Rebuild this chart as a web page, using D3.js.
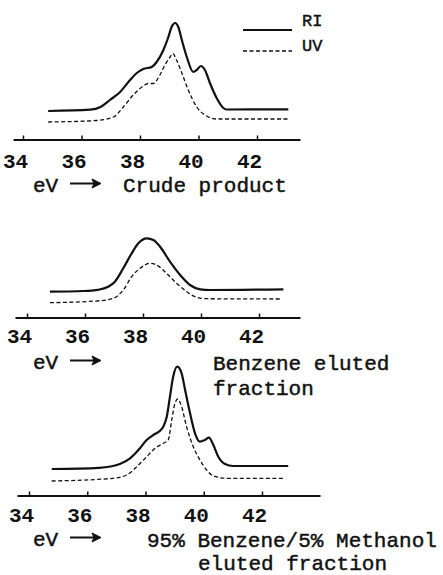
<!DOCTYPE html>
<html><head><meta charset="utf-8">
<script src="https://cdn.jsdelivr.net/npm/d3@7"></script>
<style>body{margin:0;background:#fff} svg{display:block}</style>
</head><body><svg id="c" width="443" height="575"></svg>
<script>
// ---- data ----
const tickValues = [34, 36, 38, 40, 42];
const tickLabels = ["34", "36", "38", "40", "42"];
const seriesNames = ["RI", "UV"];
const axisUnit = "eV";

// Crude product
const crudeRI_eV = [34.86, 36.30, 36.65, 36.97, 37.32, 37.66, 37.89, 38.11, 38.40, 38.57, 38.80, 38.97, 39.08, 39.20, 39.31, 39.43, 39.60, 39.82, 39.94, 40.08, 40.22, 40.39, 40.62, 40.85, 40.96, 43.07];
const crudeRI    = [11, 12.3, 15, 22, 30, 42, 49, 53, 55, 60, 72, 85, 95, 99, 95, 82, 65, 50, 52, 56, 52, 39, 24, 14, 12.5, 12.7];
const crudeUV_eV = [34.86, 36.52, 37.09, 37.43, 37.77, 38.11, 38.28, 38.45, 38.68, 38.85, 39.03, 39.12, 39.25, 39.43, 39.65, 39.94, 40.22, 40.62, 43.07];
const crudeUV    = [0, 1.5, 5, 15, 27, 36, 38.5, 38.5, 47, 57, 65, 68.5, 62, 49, 32, 15, 7, 3, 3];

// Benzene eluted fraction
const benzRI_eV = [34.79, 35.94, 36.45, 36.80, 37.03, 37.32, 37.61, 37.84, 38.13, 38.36, 38.59, 38.93, 39.28, 39.62, 39.97, 40.31, 42.84];
const benzRI    = [11.3, 12, 13.2, 16.2, 21.3, 34.7, 49.7, 59.7, 64.7, 63, 56.3, 41.3, 28, 18, 13.7, 13, 13.7];
const benzUV_eV = [34.79, 36.52, 36.98, 37.32, 37.61, 37.90, 38.24, 38.47, 38.81, 39.16, 39.51, 39.85, 40.20, 42.78];
const benzUV    = [0.3, 2.3, 4.7, 13, 26.3, 34.7, 39.7, 38, 29.7, 19.7, 11.3, 5.7, 4.3, 4];

// 95% Benzene / 5% Methanol eluted fraction
const methRI_eV = [34.78, 36.40, 36.80, 37.12, 37.47, 37.81, 38.04, 38.27, 38.50, 38.61, 38.73, 38.84, 38.95, 39.09, 39.24, 39.36, 39.53, 39.70, 39.87, 40.04, 40.18, 40.33, 40.50, 40.73, 41.01, 42.90];
const methRI    = [12, 13.2, 14.5, 17, 22.7, 32.7, 41, 46, 50.3, 54.3, 64.3, 84.3, 104.3, 114.3, 107.7, 91, 67.7, 47.7, 39.3, 41, 43.3, 36, 24.3, 17, 15, 15];
const methUV_eV = [34.78, 36.89, 37.35, 37.70, 38.04, 38.33, 38.61, 38.78, 38.90, 39.01, 39.11, 39.24, 39.41, 39.64, 39.87, 40.10, 40.33, 40.79, 42.73];
const methUV    = [0, 2.7, 6, 14.3, 24.3, 32.7, 37.7, 41, 61, 77.7, 82, 74.3, 54.3, 34.3, 21, 11, 5, 2.7, 2.7];

const panelTitles = [["Crude product"], ["Benzene eluted", "fraction"], ["95% Benzene/5% Methanol", "eluted fraction"]];

// ---- layout ----
const INK = "#111";
const FONT = "'Liberation Mono', 'DejaVu Sans Mono', monospace";
const svg = d3.select("#c");

const panels = [
  { ri: [crudeRI_eV, crudeRI], uv: [crudeUV_eV, crudeUV], t34: 23, t42: 257, L: 13, R: 300, axisY: 139.5, baseY: 122, tickBase: 168, evBase: 192,
    titlePos: [[123, 192]] },
  { ri: [benzRI_eV, benzRI], uv: [benzUV_eV, benzUV], t34: 27, t42: 259, L: 15, R: 300, axisY: 317.5, baseY: 303, tickBase: 343, evBase: 369,
    titlePos: [[213, 370], [213, 395]] },
  { ri: [methRI_eV, methRI], uv: [methUV_eV, methUV], t34: 29, t42: 262, L: 17, R: 320, axisY: 495.5, baseY: 481, tickBase: 522, evBase: 546,
    titlePos: [[147, 547], [198, 570]] }
];

function addText(x, y, t, size) {
  return svg.append("text").attr("x", x).attr("y", y).attr("font-family", FONT).attr("font-size", size)
    .attr("fill", INK).attr("stroke", INK).attr("stroke-width", 0.45).text(t);
}

panels.forEach((p, i) => {
  const x0 = d3.scaleLinear().domain([34, 42]).range([p.t34, p.t42]);
  const x = d3.scaleLinear().domain([x0.invert(p.L), x0.invert(p.R)]).range([p.L, p.R]);
  const y = d3.scaleLinear().domain([0, 100]).range([p.baseY, p.baseY - 100]);
  const line = d3.line().x(d => x(d[0])).y(d => y(d[1])).curve(d3.curveMonotoneX);

  const ri = d3.zip(p.ri[0], p.ri[1]);
  const uv = d3.zip(p.uv[0], p.uv[1]);
  svg.append("path").attr("d", line(ri)).attr("fill", "none").attr("stroke", INK).attr("stroke-width", 2.2).attr("stroke-linejoin", "round");
  svg.append("path").attr("d", line(uv)).attr("fill", "none").attr("stroke", INK).attr("stroke-width", 1.3).attr("stroke-dasharray", "4,2.5");

  const axis = d3.axisBottom(x).tickValues(tickValues).tickFormat((d, j) => tickLabels[j]).tickSizeInner(-4).tickSizeOuter(0);
  const g = svg.append("g").attr("transform", `translate(0,${p.axisY})`).call(axis);
  g.attr("color", INK).attr("font-family", FONT).attr("font-size", 21).attr("font-weight", "bold");
  g.select(".domain").attr("stroke-width", 2);
  g.selectAll(".tick line").attr("stroke-width", 1.5);
  g.selectAll(".tick text").attr("y", p.tickBase - p.axisY).attr("dy", 0).attr("dx", -8).attr("fill", INK);

  // eV → label
  addText(33, p.evBase, axisUnit, 21);
  const ay = p.evBase - 8.5;
  svg.append("line").attr("x1", 70).attr("x2", 95).attr("y1", ay).attr("y2", ay).attr("stroke", INK).attr("stroke-width", 2);
  svg.append("path").attr("d", `M101,${ay} L92,${ay - 4.5} L94,${ay} L92,${ay + 4.5} Z`).attr("fill", INK).attr("stroke", INK).attr("stroke-width", 1);

  panelTitles[i].forEach((t, k) => addText(p.titlePos[k][0], p.titlePos[k][1], t, 21));
});

// legend
const legend = [{ y: 30, ty: 26, dash: null, w: 2.2 }, { y: 51, ty: 51, dash: "4,2.5", w: 1.3 }];
legend.forEach((l, i) => {
  svg.append("line").attr("x1", 243).attr("x2", 292).attr("y1", l.y).attr("y2", l.y)
    .attr("stroke", INK).attr("stroke-width", l.w).attr("stroke-dasharray", l.dash);
  addText(302, l.ty, seriesNames[i], 17);
});
</script></body></html>
